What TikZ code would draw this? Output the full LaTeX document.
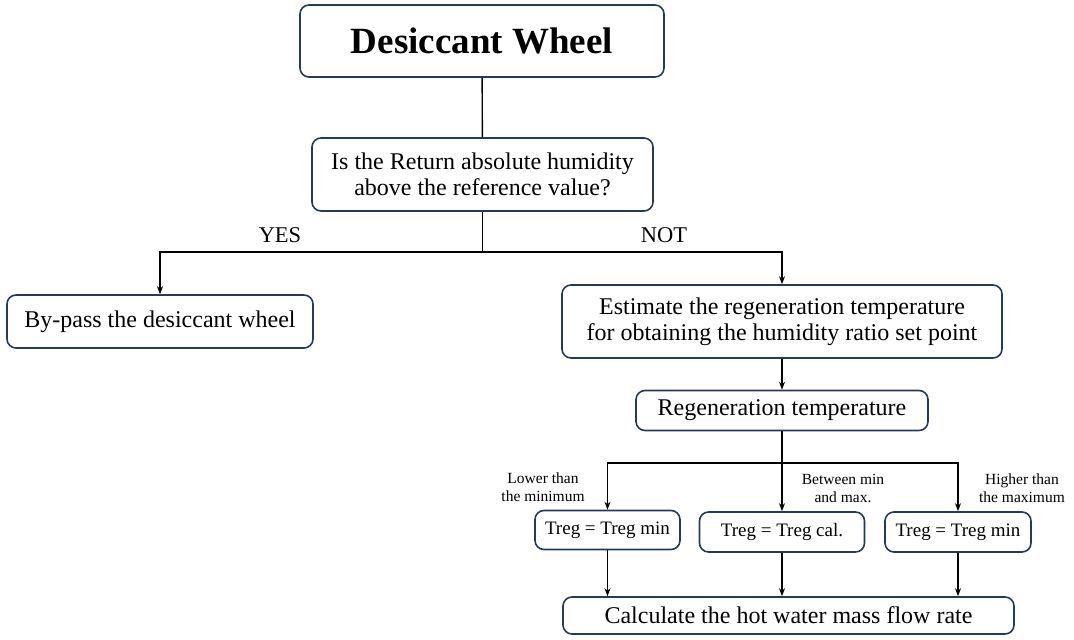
\documentclass[tikz,border=0pt]{standalone}
\usepackage{fontspec}
\setmainfont{Liberation Serif}
\usetikzlibrary{arrows.meta}
\definecolor{boxline}{HTML}{263A57}
\begin{document}
\begin{tikzpicture}[x=1pt,y=-1pt,
  box/.style={draw=boxline, line width=1.6pt, rounded corners=9pt, fill=white,
              align=center, inner sep=2pt, font=\fontsize{24}{26}\selectfont},
  treg/.style={box, font=\fontsize{19}{22}\selectfont},
  small/.style={align=center, font=\fontsize{15.5}{18}\selectfont},
  lbl/.style={font=\fontsize{22.5}{25}\selectfont},
  link/.style={line width=1.4pt, draw=black},
  arr/.style={link, -{Stealth[length=8pt,width=6pt]}}]
\useasboundingbox (0,0) rectangle (1074,640);

% main boxes
\node[box, minimum width=364pt, minimum height=72pt,
      font=\fontsize{37}{40}\selectfont\bfseries] (top) at (482,41) {Desiccant Wheel};
\node[box, minimum width=341pt, minimum height=73pt] (q) at (482.5,174.5)
      {Is the Return absolute humidity\\above the reference value?};
\node[box, minimum width=306pt, minimum height=53pt] (byp) at (160,321.5)
      {By-pass the desiccant wheel};
\node[box, minimum width=440pt, minimum height=73pt] (est) at (782,321.5)
      {Estimate the regeneration temperature\\for obtaining the humidity ratio set point};
\node[box, minimum width=292pt, minimum height=40pt] (regen) at (782,410.5)
      {Regeneration temperature};
\node[treg, minimum width=145pt, minimum height=39pt] (t1) at (607.5,530)
      {Treg = Treg min};
\node[treg, minimum width=165pt, minimum height=40pt] (t2) at (782,532)
      {Treg = Treg cal.};
\node[treg, minimum width=146pt, minimum height=40pt] (t3) at (958,532)
      {Treg = Treg min};
\node[box, minimum width=451pt, minimum height=37pt] (calc) at (788.5,615.5)
      {Calculate the hot water mass flow rate};

% branch labels
\node[lbl] (yes) at (280,235) {YES};
\node[lbl] (no) at (664,235) {NOT};
\node[small] (lo) at (543,487) {Lower than\\the minimum};
\node[small] (mid) at (843,488) {Between min\\and max.};
\node[small] (hi) at (1022,488) {Higher than\\the maximum};

% junction points
\coordinate (j) at (482.5,252);
\coordinate (k) at (782,463);

% connectors
\draw[link] (top) -- (q);
\draw[link] (q.south) -- (j);
\draw[arr] (j) -| (byp.north);
\draw[arr] (j) -| (est.north);
\draw[arr] (est.south) -- (regen.north);
\draw[link] (regen.south) -- (k);
\draw[arr] (k) -| (t1.north);
\draw[arr] (k) -- (t2.north);
\draw[arr] (k) -| (t3.north);
\draw[arr] (t1.south) -- (t1.south |- calc.north);
\draw[arr] (t2.south) -- (t2.south |- calc.north);
\draw[arr] (t3.south) -- (t3.south |- calc.north);
\end{tikzpicture}
\end{document}
